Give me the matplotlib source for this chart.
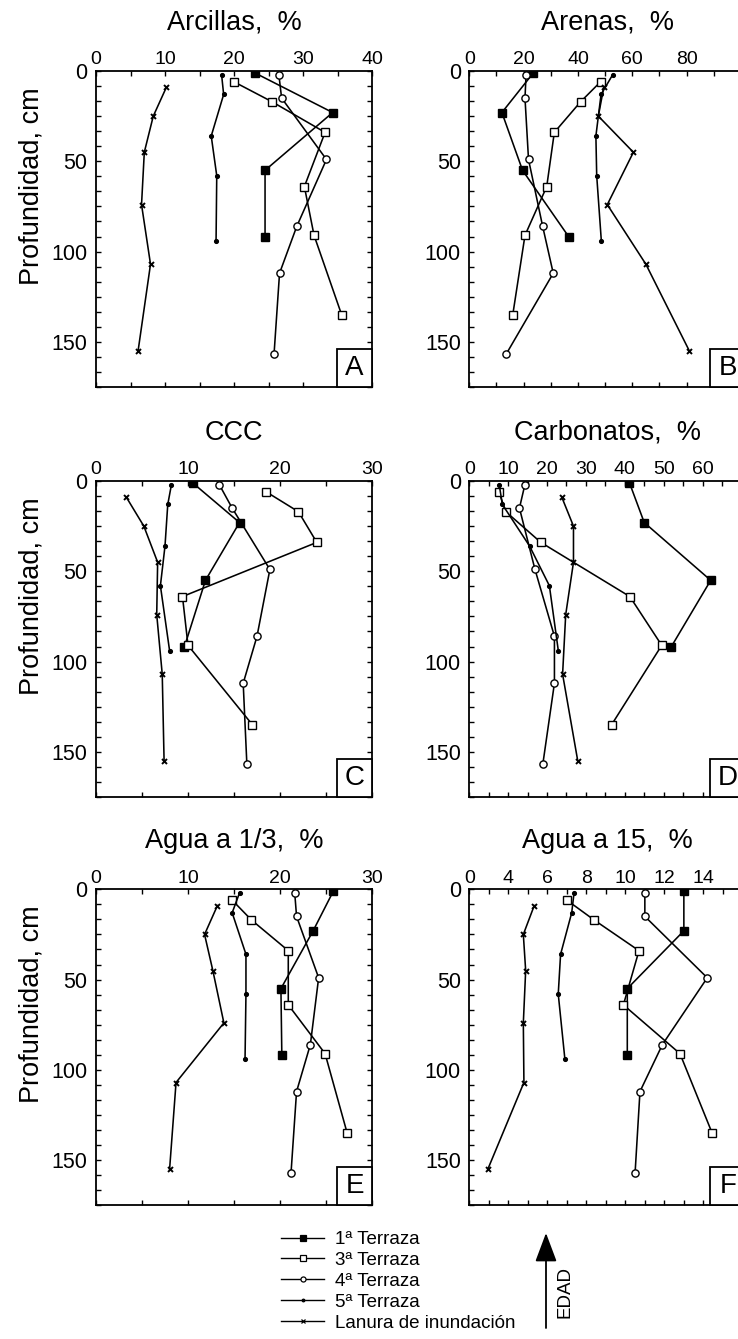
import numpy as np
import matplotlib
matplotlib.use('Agg')
import matplotlib.pyplot as plt
from matplotlib.lines import Line2D
from matplotlib.patches import FancyArrowPatch, Rectangle
from matplotlib.ticker import MultipleLocator, FixedLocator

plt.rcParams['font.family'] = ['Liberation Sans', 'DejaVu Sans']

# depth of each sampled horizon (cm), one list per profile
depth_t1 = [1, 23, 55, 92]
depth_t3 = [6, 17, 34, 64, 91, 135]
depth_t4 = [2, 15, 49, 86, 112, 157]
depth_t5 = [2, 13, 36, 58, 94]
depth_lan = [9, 25, 45, 74, 107, 155]

series_names = ['1ª Terraza', '3ª Terraza', '4ª Terraza', '5ª Terraza', 'Lanura de inundación']

# A - Arcillas
arcillas_t1 = [23.0, 34.3, 24.5, 24.5]
arcillas_t3 = [20.0, 25.5, 33.2, 30.2, 31.6, 35.6]
arcillas_t4 = [26.5, 26.9, 33.4, 29.1, 26.6, 25.8]
arcillas_t5 = [18.2, 18.5, 16.7, 17.5, 17.4]
arcillas_lan = [10.2, 8.3, 7.0, 6.6, 7.9, 6.1]

# B - Arenas
arenas_t1 = [23.6, 12.0, 19.6, 36.7]
arenas_t3 = [48.3, 41.0, 31.3, 28.5, 20.5, 16.0]
arenas_t4 = [20.9, 20.5, 21.8, 27.0, 30.9, 13.5]
arenas_t5 = [52.8, 48.5, 46.6, 46.9, 48.6]
arenas_lan = [49.5, 47.5, 60.4, 50.8, 65.0, 81.0]

# C - CCC
ccc_t1 = [10.5, 15.6, 11.9, 9.6]
ccc_t3 = [18.5, 22.0, 24.0, 9.4, 10.0, 17.0]
ccc_t4 = [13.4, 14.8, 18.9, 17.5, 16.0, 16.4]
ccc_t5 = [8.2, 7.8, 7.5, 7.0, 8.0]
ccc_lan = [3.3, 5.2, 6.7, 6.6, 7.2, 7.4]

# D - Carbonatos
carb_t1 = [41.2, 45.0, 62.1, 51.9]
carb_t3 = [7.6, 9.4, 18.4, 41.3, 49.5, 36.6]
carb_t4 = [14.3, 12.9, 16.9, 21.9, 21.9, 18.9]
carb_t5 = [7.7, 8.5, 15.5, 20.6, 22.9]
carb_lan = [23.8, 26.8, 26.8, 24.8, 24.0, 27.9]

# E - Agua a 1/3
agua13_t1 = [25.8, 23.6, 20.1, 20.2]
agua13_t3 = [14.8, 16.9, 20.9, 20.9, 24.9, 27.3]
agua13_t4 = [21.6, 21.8, 24.2, 23.3, 21.8, 21.2]
agua13_t5 = [15.6, 14.8, 16.3, 16.3, 16.2]
agua13_lan = [13.2, 11.8, 12.7, 13.9, 8.7, 8.0]

# F - Agua a 15
agua15_t1 = [13.0, 13.0, 10.1, 10.1]
agua15_t3 = [7.0, 8.4, 10.7, 9.9, 12.8, 14.45]
agua15_t4 = [11.0, 11.0, 14.2, 11.9, 10.75, 10.5]
agua15_t5 = [7.37, 7.25, 6.68, 6.56, 6.9]
agua15_lan = [5.33, 4.77, 4.89, 4.77, 4.8, 2.95]

titles = ['Arcillas,  %', 'Arenas,  %', 'CCC', 'Carbonatos,  %', 'Agua a 1/3,  %', 'Agua a 15,  %']
letters = ['A', 'B', 'C', 'D', 'E', 'F']

panels = [
    [arcillas_t1, arcillas_t3, arcillas_t4, arcillas_t5, arcillas_lan],
    [arenas_t1, arenas_t3, arenas_t4, arenas_t5, arenas_lan],
    [ccc_t1, ccc_t3, ccc_t4, ccc_t5, ccc_lan],
    [carb_t1, carb_t3, carb_t4, carb_t5, carb_lan],
    [agua13_t1, agua13_t3, agua13_t4, agua13_t5, agua13_lan],
    [agua15_t1, agua15_t3, agua15_t4, agua15_t5, agua15_lan],
]
depths = [depth_t1, depth_t3, depth_t4, depth_t5, depth_lan]

# x axis setup per panel: limits, labelled ticks, tick text, minor step
xlims = [(0, 40), (0, 101.6), (0, 30), (0, 71), (0, 30), (2, 16.15)]
xticks = [[0, 10, 20, 30, 40], [0, 20, 40, 60, 80], [0, 10, 20, 30],
          [0, 10, 20, 30, 40, 50, 60], [0, 10, 20, 30], [2, 4, 6, 8, 10, 12, 14]]
xticklabels = [['0', '10', '20', '30', '40'], ['0', '20', '40', '60', '80'],
               ['0', '10', '20', '30'], ['0', '10', '20', '30', '40', '50', '60'],
               ['0', '10', '20', '30'], ['0', '4', '6', '8', '10', '12', '14']]
xminor = [5, 10, 5, 5, 5, 1]

styles = [
    dict(marker='s', ms=5.2, mfc='black', mec='black'),
    dict(marker='s', ms=5.8, mfc='white', mec='black', mew=1.0),
    dict(marker='o', ms=5.2, mfc='white', mec='black', mew=1.0),
    dict(marker='o', ms=2.7, mfc='black', mec='black'),
    dict(marker='x', ms=3.6, mfc='black', mec='black', mew=1.4),
]

fig = plt.figure(figsize=(7.38, 13.39), dpi=100)
W, H = 738.0, 1339.0
lefts = [96, 469.3]
tops = [71, 481, 889.3]
aw, ah = 276, 316

for i in range(6):
    col = i % 2
    row = i // 2
    ax = fig.add_axes([lefts[col] / W, 1 - (tops[row] + ah) / H, aw / W, ah / H])
    for s in range(5):
        ax.plot(panels[i][s], depths[s], color='black', lw=1.15, **styles[s])
    ax.set_xlim(*xlims[i])
    ax.set_ylim(175, 0)
    ax.xaxis.set_major_locator(FixedLocator(xticks[i]))
    ax.set_xticklabels(xticklabels[i])
    ax.xaxis.set_minor_locator(MultipleLocator(xminor[i]))
    ax.yaxis.set_major_locator(FixedLocator([0, 50, 100, 150]))
    ax.yaxis.set_minor_locator(MultipleLocator(50 / 6))
    ax.tick_params(which='both', direction='in', top=True, bottom=True, left=True, right=True,
                   labeltop=True, labelbottom=False, length=3.5, width=1.0)
    ax.tick_params(axis='x', labelsize=14, pad=2)
    ax.tick_params(axis='y', labelsize=15.5, pad=6)
    for sp in ax.spines.values():
        sp.set_linewidth(1.3)
    ax.text(0.5, 1.152, titles[i], transform=ax.transAxes, ha='center', va='center', fontsize=19.5)
    if col == 0:
        ax.text(-0.235, 0.636, 'Profundidad, cm', transform=ax.transAxes, rotation=90,
                ha='center', va='center', fontsize=19.5)
    # letter box sitting in the lower right corner
    bw, bh = 35 / aw, 38 / ah
    ax.add_patch(Rectangle((1 - bw, 0), bw, bh, transform=ax.transAxes, fc='white',
                           ec='black', lw=1.3, zorder=5, clip_on=False))
    ax.text(1 - bw / 2, bh / 2, letters[i], transform=ax.transAxes, ha='center', va='center',
            fontsize=20, zorder=6)

# legend
handles = [Line2D([], [], color='black', lw=1.0, marker=st['marker'], ms=st['ms'] * 0.7,
                  mfc=st['mfc'], mec=st['mec'], mew=0.9) for st in styles]
fig.legend(handles, series_names, loc='upper left', bbox_to_anchor=(281 / W, 1 - 1231 / H),
           frameon=False, fontsize=13.5, handlelength=2.3, handletextpad=0.6,
           labelspacing=0.2, borderaxespad=0, borderpad=0)

# EDAD arrow
arrow = FancyArrowPatch((546 / W, 1 - 1328 / H), (546 / W, 1 - 1233 / H), transform=fig.transFigure,
                        arrowstyle='-|>,head_length=1.12,head_width=0.42', mutation_scale=16,
                        color='black', lw=1.3, shrinkA=0, shrinkB=0)
fig.add_artist(arrow)
fig.text(565 / W, 1 - 1292 / H, 'EDAD', rotation=90, ha='center', va='center', fontsize=13.5)

fig.savefig('out.png', dpi=100)
